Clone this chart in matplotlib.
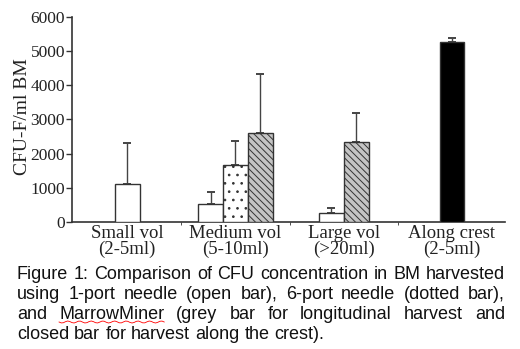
import matplotlib
matplotlib.use("Agg")
import matplotlib.pyplot as plt
import numpy as np

categories = ["Small vol\n(2-5ml)", "Medium vol\n(5-10ml)", "Large vol\n(>20ml)", "Along crest\n(2-5ml)"]
yticks = [0, 1000, 2000, 3000, 4000, 5000, 6000]

open_vals = [1100, 530, 250]
open_errs = [1220, 350, 160]
dotted_vals = [1670]
dotted_errs = [700]
grey_vals = [2610, 2340]
grey_errs = [1720, 850]
closed_vals = [5270]
closed_errs = [120]

caption_lines = [
    "Figure 1: Comparison of CFU concentration in BM harvested",
    "using 1-port needle (open bar), 6-port needle (dotted bar),",
    "and MarrowMiner (grey bar for longitudinal harvest and",
    "closed bar for harvest along the crest).",
]

plt.rcParams['hatch.linewidth'] = 0.7
fig = plt.figure(figsize=(5.2, 3.49), dpi=100)
ax = fig.add_axes([72/520, 1-222/349, (505-72)/520, (222-17)/349])

w = 0.23
ec = "#333333"
open_x = [0, 1 - w, 2 - w/2]
dotted_x = [1]
grey_x = [1 + w, 2 + w/2]
closed_x = [3]

def draw(xs, vals, errs, **kw):
    ax.bar(xs, vals, width=w, edgecolor=ec, linewidth=1.0, zorder=3, **kw)
    ax.errorbar(xs, vals, yerr=[np.zeros(len(vals)), errs], fmt='none',
                ecolor="#444444", elinewidth=1.0, capsize=3, capthick=1.4, zorder=2)

draw(open_x, open_vals, open_errs, color="white")
draw(dotted_x, dotted_vals, dotted_errs, color="white", hatch="..")
draw(grey_x, grey_vals, grey_errs, color="#c4c4c4", hatch="\\\\\\\\\\")
draw(closed_x, closed_vals, closed_errs, color="black")

ax.set_xlim(-0.51, 3.49)
ax.set_ylim(0, 6000)
ax.set_yticks(yticks)
ax.set_yticklabels([str(v) for v in yticks], fontfamily="Liberation Serif", fontsize=12.5)
ax.set_xticks([0, 1, 2, 3])
ax.set_xticklabels(categories, fontfamily="Liberation Serif", fontsize=13.5, linespacing=0.9)
ax.set_xticks([0.5, 1.5, 2.5], minor=True)
ax.tick_params(axis='x', which='major', length=0, pad=2, colors="#222222")
ax.tick_params(axis='x', which='minor', length=2, direction='out', color=ec)
ax.tick_params(axis='y', length=4, width=1, color=ec, pad=1, labelcolor="#222222")
for s in ["top", "right"]:
    ax.spines[s].set_visible(False)
for s in ["left", "bottom"]:
    ax.spines[s].set_color(ec)
    ax.spines[s].set_linewidth(1.2)
ax.set_ylabel("CFU-F/ml BM", fontfamily="Liberation Serif", fontsize=14, color="#222222")
ax.yaxis.set_label_coords(-0.095, 0.515)

# justified caption
fig.canvas.draw()
renderer = fig.canvas.get_renderer()
left_px, right_px = 17, 505
baselines = [279, 299, 319, 339]
H = 349
FS = 13
for li, line in enumerate(caption_lines):
    words = line.split(" ")
    texts = []
    widths = []
    for wd in words:
        t = fig.text(0, 0, wd, fontfamily="Liberation Sans", fontsize=FS, va="baseline", ha="left", color="#111111")
        widths.append(t.get_window_extent(renderer).width)
        texts.append(t)
    if li < len(caption_lines) - 1:
        gap = (right_px - left_px - sum(widths)) / (len(words) - 1)
    else:
        sp = fig.text(0, 0, "a b", fontfamily="Liberation Sans", fontsize=FS)
        sp2 = fig.text(0, 0, "ab", fontfamily="Liberation Sans", fontsize=FS)
        gap = sp.get_window_extent(renderer).width - sp2.get_window_extent(renderer).width
        sp.remove(); sp2.remove()
    x = left_px
    for t, wd_, word in zip(texts, widths, words):
        t.set_position((x / 520, 1 - baselines[li] / H))
        if word == "MarrowMiner":
            xs = np.linspace(x, x + wd_, 50)
            ys = baselines[li] + 3 + 1.0 * np.sin(np.linspace(0, 18 * np.pi, 50))
            fig.add_artist(plt.Line2D(xs / 520, 1 - ys / H, color="red", lw=0.6))
        x += wd_ + gap

fig.savefig("out.png", dpi=100)
